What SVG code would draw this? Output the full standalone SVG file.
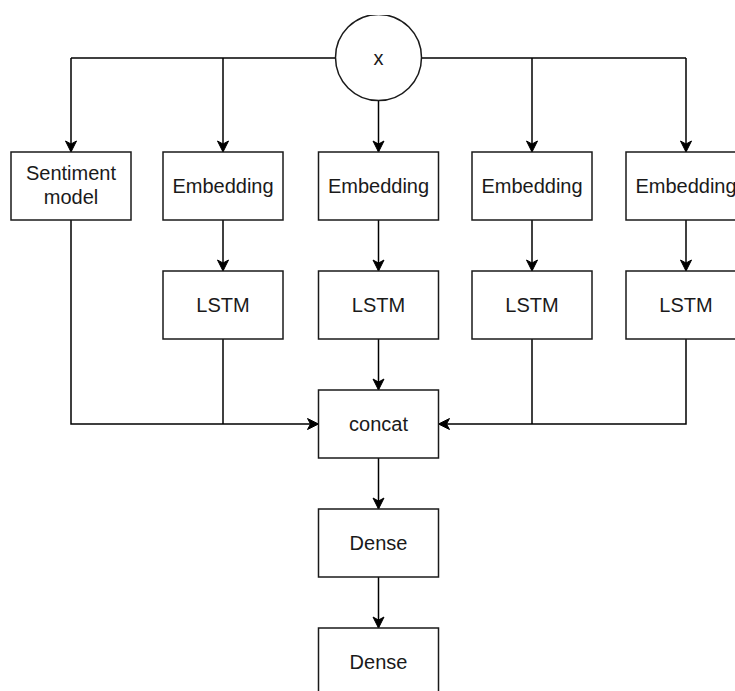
<svg xmlns="http://www.w3.org/2000/svg" width="735" height="691" viewBox="0 0 735 691">
<style>
.box{fill:#fff;stroke:#1a1a1a;stroke-width:1.5}
.lbl{font-family:"Liberation Sans",Arial,Helvetica,sans-serif;font-size:20px;fill:#1a1a1a;text-anchor:middle}
.ln{fill:none;stroke:#000;stroke-width:1.5}
.arr{marker-end:url(#ah)}
</style>
<defs>
<marker id="ah" markerUnits="userSpaceOnUse" viewBox="-12 -7 14 14" markerWidth="14" markerHeight="14" refX="0" refY="0" orient="auto">
<path d="M0,0 L-11,-5.5 L-8,0 L-11,5.5 Z" fill="#000" stroke="#000" stroke-width="1"/>
</marker>
<clipPath id="topclip"><rect x="0" y="15" width="735" height="676"/></clipPath>
</defs>
<g id="connectors">
<path class="ln" d="M71,58 H686"/>
<path class="ln arr" d="M71,58 V152"/>
<path class="ln arr" d="M223,58 V152"/>
<path class="ln arr" d="M378.5,100 V152"/>
<path class="ln arr" d="M532,58 V152"/>
<path class="ln arr" d="M686,58 V152"/>
<path class="ln arr" d="M223,220 V271"/>
<path class="ln arr" d="M378.5,220 V271"/>
<path class="ln arr" d="M532,220 V271"/>
<path class="ln arr" d="M686,220 V271"/>
<path class="ln arr" d="M71,220 V424 H318.5"/>
<path class="ln" d="M223,339 V424"/>
<path class="ln arr" d="M378.5,339 V390"/>
<path class="ln" d="M532,339 V424"/>
<path class="ln arr" d="M686,339 V424 H438.5"/>
<path class="ln arr" d="M378.5,458 V509"/>
<path class="ln arr" d="M378.5,577 V628"/>
</g>
<g id="x">
<circle class="box" cx="378.5" cy="57.5" r="43" clip-path="url(#topclip)"/>
<text class="lbl" x="378.5" y="65">x</text>
</g>
<g id="sentiment">
<rect class="box" x="11" y="152" width="120" height="68"/>
<text class="lbl" x="71" y="180">Sentiment</text>
<text class="lbl" x="71" y="204">model</text>
</g>
<g id="emb1">
<rect class="box" x="163" y="152" width="120" height="68"/>
<text class="lbl" x="223" y="193">Embedding</text>
</g>
<g id="emb2">
<rect class="box" x="318.5" y="152" width="120" height="68"/>
<text class="lbl" x="378.5" y="193">Embedding</text>
</g>
<g id="emb3">
<rect class="box" x="472" y="152" width="120" height="68"/>
<text class="lbl" x="532" y="193">Embedding</text>
</g>
<g id="emb4">
<rect class="box" x="626" y="152" width="120" height="68"/>
<text class="lbl" x="686" y="193">Embedding</text>
</g>
<g id="lstm1">
<rect class="box" x="163" y="271" width="120" height="68"/>
<text class="lbl" x="223" y="312">LSTM</text>
</g>
<g id="lstm2">
<rect class="box" x="318.5" y="271" width="120" height="68"/>
<text class="lbl" x="378.5" y="312">LSTM</text>
</g>
<g id="lstm3">
<rect class="box" x="472" y="271" width="120" height="68"/>
<text class="lbl" x="532" y="312">LSTM</text>
</g>
<g id="lstm4">
<rect class="box" x="626" y="271" width="120" height="68"/>
<text class="lbl" x="686" y="312">LSTM</text>
</g>
<g id="concat">
<rect class="box" x="318.5" y="390" width="120" height="68"/>
<text class="lbl" x="378.5" y="431">concat</text>
</g>
<g id="dense1">
<rect class="box" x="318.5" y="509" width="120" height="68"/>
<text class="lbl" x="378.5" y="550">Dense</text>
</g>
<g id="dense2">
<rect class="box" x="318.5" y="628" width="120" height="68"/>
<text class="lbl" x="378.5" y="669">Dense</text>
</g>
</svg>
